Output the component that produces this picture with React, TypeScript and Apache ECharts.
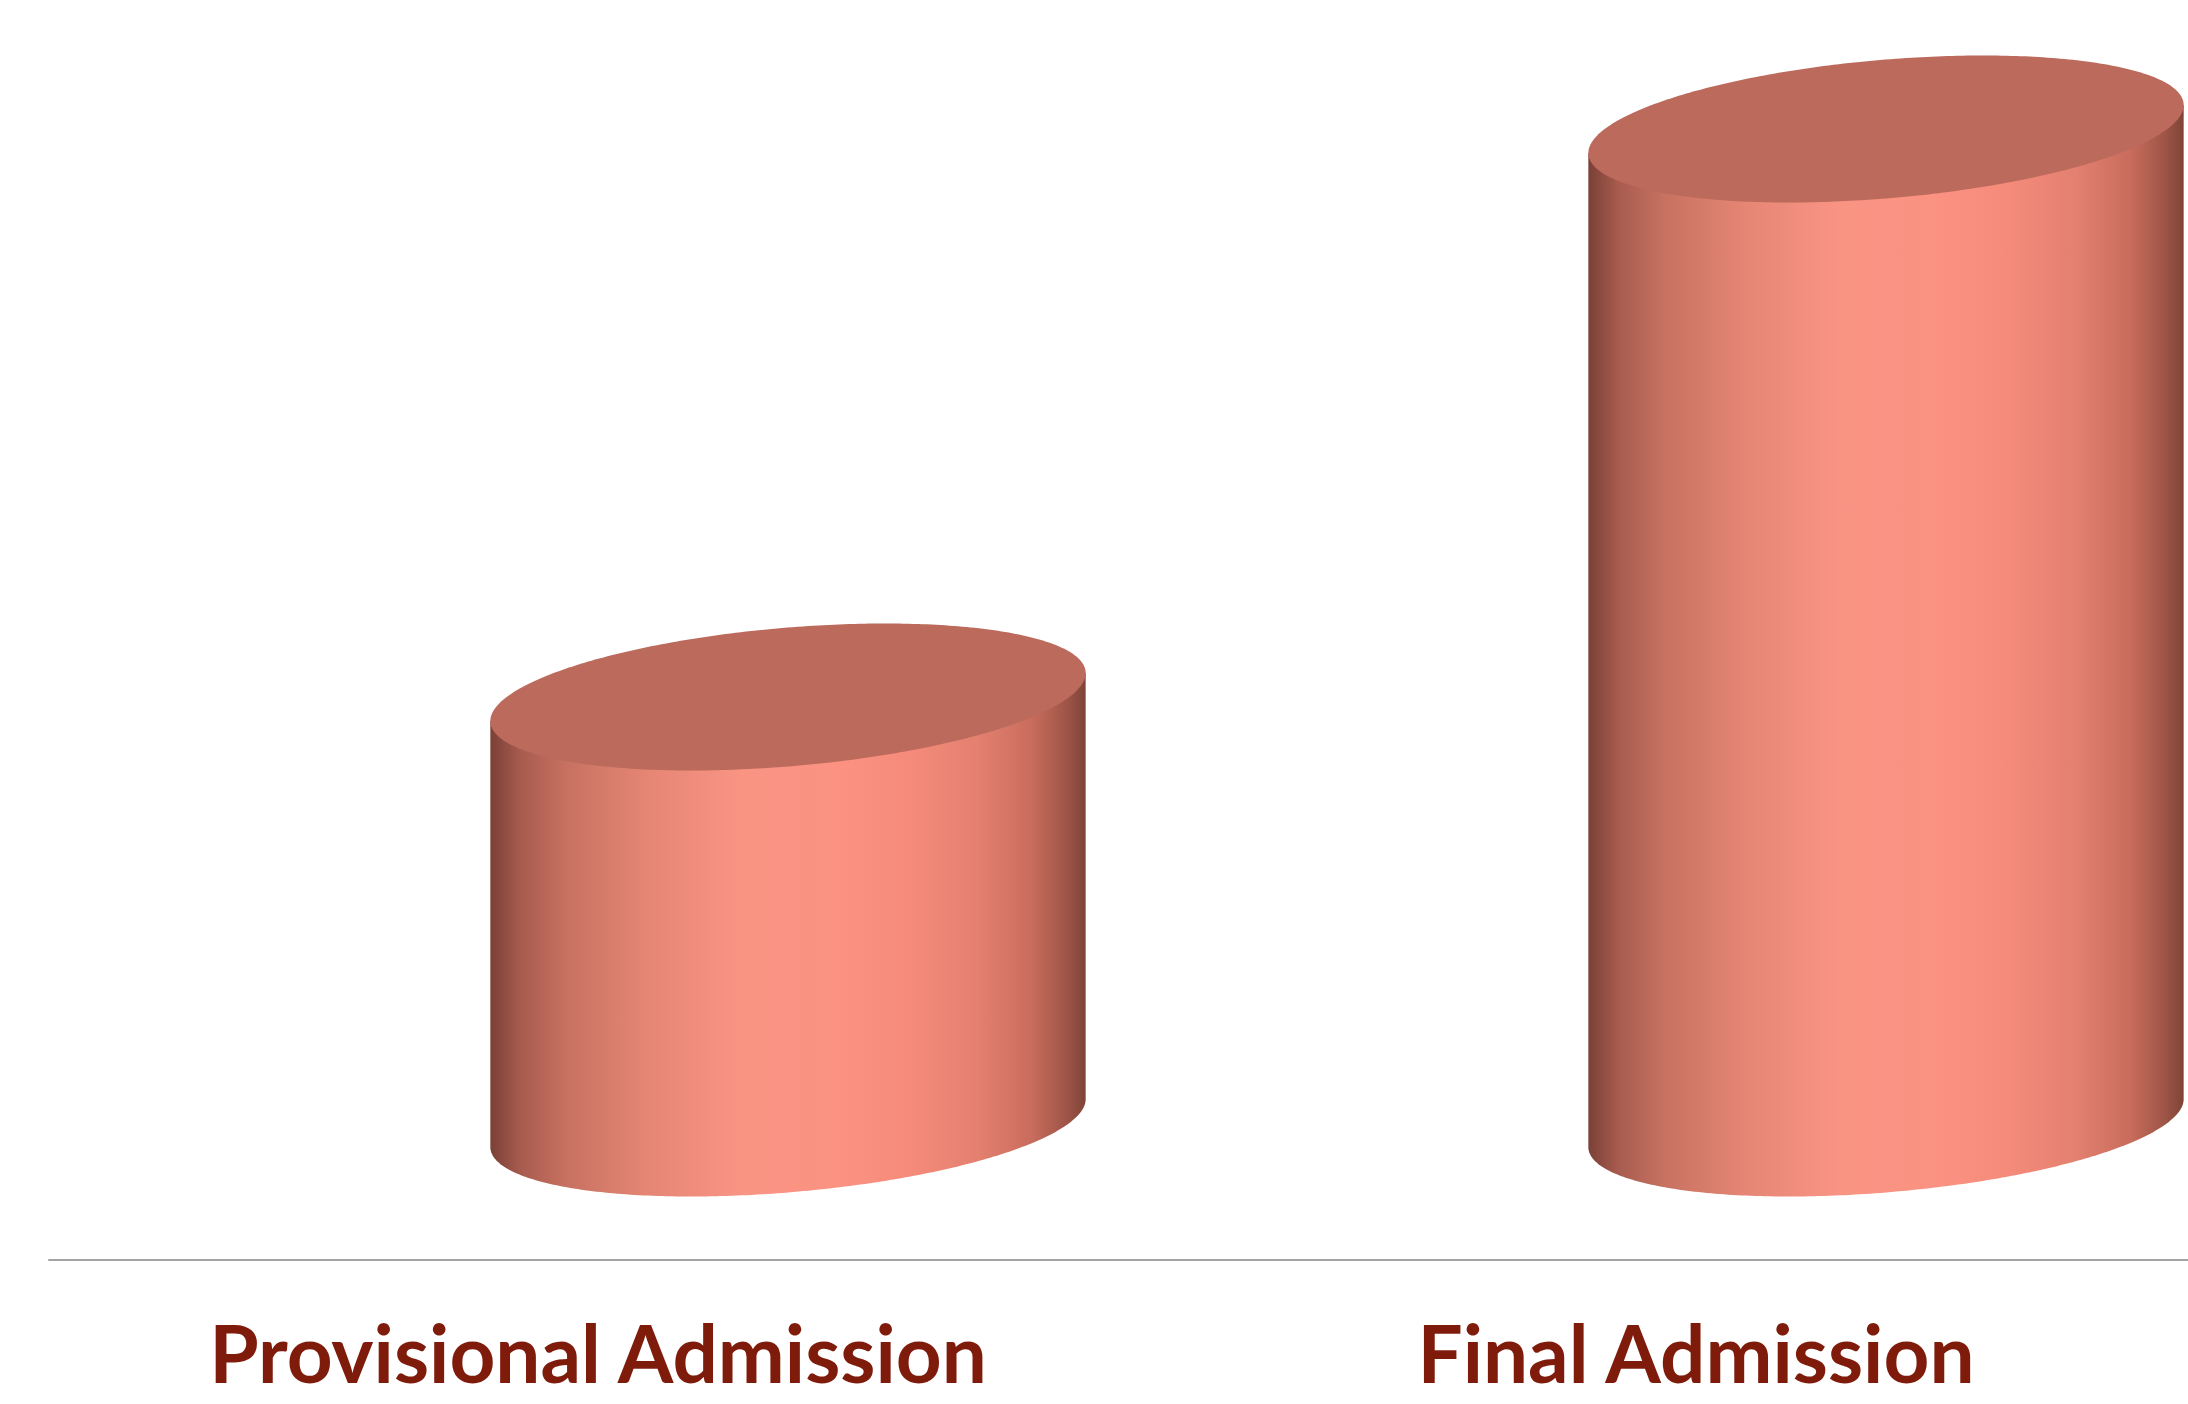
import React, { useEffect, useRef } from 'react';
import * as echarts from 'echarts';

const categories: string[] = ['Provisional Admission', 'Final Admission'];
const values: number[] = [30, 70];
const yMin = 0;
const yMax = 80;

const sideStops = [
  { offset: 0, color: '#7A4036' },
  { offset: 0.05, color: '#A75B4E' },
  { offset: 0.13, color: '#C87262' },
  { offset: 0.26, color: '#E58574' },
  { offset: 0.42, color: '#F99483' },
  { offset: 0.58, color: '#FB9282' },
  { offset: 0.7, color: '#F68B7B' },
  { offset: 0.82, color: '#E3806F' },
  { offset: 0.91, color: '#C96C5D' },
  { offset: 0.97, color: '#9C5446' },
  { offset: 1, color: '#7E4437' },
];
const topColor = '#BC6A5C';

export default function App() {
  const ref = useRef<HTMLDivElement>(null);
  useEffect(() => {
    document.body.style.margin = '0';
    const chart = echarts.init(ref.current as HTMLDivElement, null, { renderer: 'svg' });
    const DX = 190;
    const DY = -137;
    const HALF_RATIO = 0.2711;
    const A_RATIO = 1.0034;
    const B_RATIO = 0.2326;
    const TH = (4.87 * Math.PI) / 180;
    const cs = Math.cos(TH);
    const sn = Math.sin(TH);
    const N = 180;

    const renderItem = (params: any, api: any) => {
      const i = api.value(0);
      const v = api.value(1);
      const pTop = api.coord([i, v]);
      const pBase = api.coord([i, 0]);
      const band = api.size([1, 0])[0];
      const halfW = band * HALF_RATIO;
      const a = halfW * A_RATIO;
      const b = halfW * B_RATIO;
      const cx = pTop[0] + DX;
      const cyT = pTop[1] + DY;
      const cyB = pBase[1] + DY;
      const pt = (cy: number, t: number) => [
        cx + a * Math.cos(t) * cs - b * Math.sin(t) * sn,
        cy - (a * Math.cos(t) * sn + b * Math.sin(t) * cs),
      ];
      const t0 = Math.atan2(-b * sn, a * cs);
      const side: number[][] = [pt(cyT, t0 + Math.PI)];
      for (let k = 0; k <= N; k++) {
        const t = t0 + Math.PI + (Math.PI * k) / N;
        side.push(pt(cyB, t));
      }
      side.push(pt(cyT, t0 + 2 * Math.PI));
      const topPts: number[][] = [];
      for (let k = 0; k < 2 * N; k++) {
        topPts.push(pt(cyT, (Math.PI * k) / N));
      }
      return {
        type: 'group',
        children: [
          {
            type: 'polygon',
            shape: { points: side },
            style: {
              fill: {
                type: 'linear',
                x: 0,
                y: 0,
                x2: 1,
                y2: 0,
                colorStops: sideStops,
              },
              stroke: null,
            },
          },
          {
            type: 'polygon',
            shape: { points: topPts },
            style: { fill: topColor, stroke: null },
          },
        ],
      };
    };

    chart.setOption({
      animation: false,
      backgroundColor: '#ffffff',
      grid: {
        left: 49,
        right: -57,
        top: 124,
        bottom: 144,
        containLabel: false,
        outerBoundsMode: 'none',
      },
      xAxis: {
        type: 'category',
        data: categories,
        axisLine: { show: true, lineStyle: { color: '#A3A3A3', width: 2 } },
        axisTick: { show: false },
        splitLine: { show: false },
        axisLabel: {
          interval: 0,
          margin: 64,
          fontFamily: 'Lato',
          fontWeight: 'bold',
          fontSize: 80,
          lineHeight: 56,
          color: '#7F1B0B',
        },
      },
      yAxis: {
        type: 'value',
        min: yMin,
        max: yMax,
        show: false,
        splitLine: { show: false },
      },
      series: [
        {
          type: 'custom',
          clip: false,
          data: values.map((v, i) => [i, v]),
          encode: { x: 0, y: 1 },
          renderItem,
        },
      ],
    });
    return () => chart.dispose();
  }, []);
  return (
    <div
      ref={ref}
      style={{ position: 'absolute', left: 0, top: 0, width: 2188, height: 1404, background: '#fff' }}
    />
  );
}
